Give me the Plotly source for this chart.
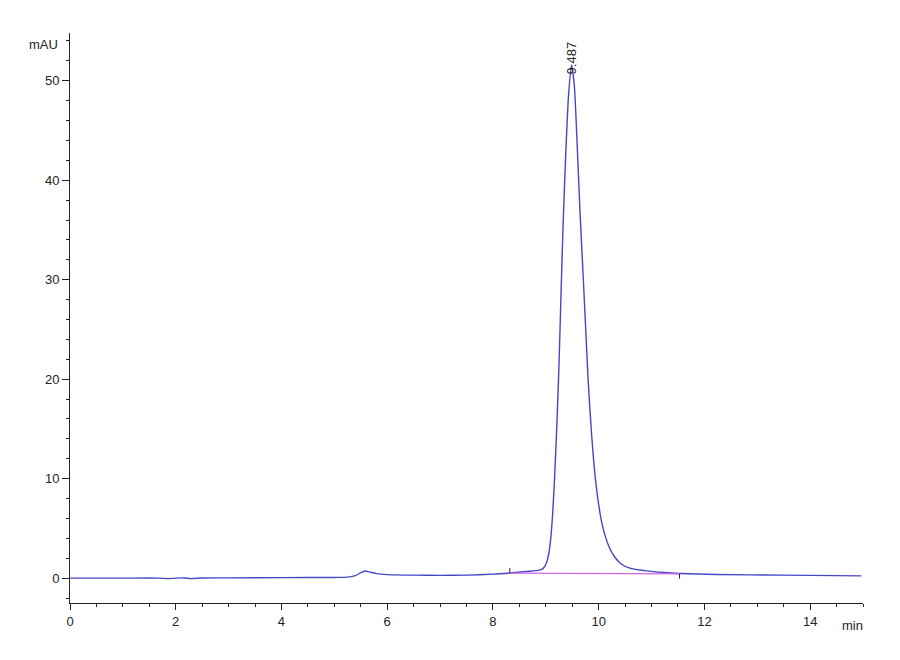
import plotly.graph_objects as go

# chromatogram trace (min, mAU)
time_min = [0.0, 1.0, 1.7, 1.85, 2.0, 2.15, 2.3, 2.5, 3.0, 4.0, 5.0, 5.25, 5.4, 5.5,
            5.58, 5.68, 5.8, 6.0, 6.5, 7.0, 7.5, 8.0, 8.32, 8.63, 8.88, 8.95, 9.01,
            9.05, 9.09, 9.13, 9.17, 9.21, 9.25, 9.29, 9.33, 9.38, 9.43, 9.487,
            9.54, 9.59, 9.65, 9.71, 9.76, 9.8, 9.86, 9.94, 10.05, 10.12, 10.2,
            10.3, 10.42, 10.59, 10.9, 11.22, 11.53, 12.22, 13.48, 14.97]
signal_mau = [0.0, 0.0, 0.0, -0.05, 0.0, 0.02, -0.05, 0.02, 0.03, 0.05, 0.07, 0.1, 0.25, 0.55,
              0.72, 0.6, 0.45, 0.35, 0.3, 0.28, 0.3, 0.4, 0.52, 0.67, 0.8, 0.98, 1.5,
              2.3, 3.8, 6.5, 10.5, 15.5, 21.5, 29.0, 36.0, 43.0, 48.5, 51.6,
              49.5, 44.0, 36.5, 30.0, 24.5, 20.0, 14.9, 9.9, 5.8, 4.3, 3.1,
              2.15, 1.45, 1.0, 0.73, 0.57, 0.47, 0.37, 0.3, 0.23]

# integration baseline and its start / end markers
baseline_t = [8.32, 11.53]
baseline_y = [0.5, 0.43]
start_mark_y = [0.5, 1.0]
end_mark_y = [0.43, -0.05]

peak_rt = 9.487
peak_label = "9.487"

font = "Liberation Sans Narrow, Arial Narrow, Liberation Sans, Arial, sans-serif"

fig = go.Figure()
fig.add_trace(go.Scatter(x=time_min, y=signal_mau, mode="lines",
                         line=dict(color="#4646c8", width=1.4, shape="spline", smoothing=0.6),
                         hoverinfo="skip"))
fig.add_trace(go.Scatter(x=baseline_t, y=baseline_y, mode="lines",
                         line=dict(color="#d264e6", width=1.4), hoverinfo="skip"))
fig.add_trace(go.Scatter(x=[baseline_t[0]] * 2, y=start_mark_y, mode="lines",
                         line=dict(color="#222222", width=1), hoverinfo="skip"))
fig.add_trace(go.Scatter(x=[baseline_t[1]] * 2, y=end_mark_y, mode="lines",
                         line=dict(color="#222222", width=1), hoverinfo="skip"))

fig.add_annotation(x=peak_rt, y=52.3, text=peak_label, textangle=-90, showarrow=False,
                   font=dict(family=font, size=13, color="#222222"))
fig.add_annotation(xref="paper", yref="paper", x=-0.013, y=0.979, text="mAU",
                   xanchor="right", yanchor="middle", showarrow=False,
                   font=dict(family=font, size=13, color="#222222"))
fig.add_annotation(x=14.8, yref="paper", y=-0.039, text="min", xanchor="center",
                   yanchor="middle", showarrow=False,
                   font=dict(family=font, size=13, color="#222222"))

fig.update_xaxes(range=[0, 15], tick0=0, dtick=2, tickvals=[0, 2, 4, 6, 8, 10, 12, 14],
                 ticks="outside", ticklen=6, tickcolor="#222222", showline=True,
                 linecolor="#222222", linewidth=1, showgrid=False, zeroline=False,
                 minor=dict(dtick=0.5, tick0=0, ticks="outside", ticklen=3,
                            tickcolor="#222222", showgrid=False),
                 tickfont=dict(family=font, size=13, color="#222222"))
fig.update_yaxes(range=[-2.5, 54.8], tick0=0, dtick=10, tickvals=[0, 10, 20, 30, 40, 50],
                 ticks="outside", ticklen=7, tickcolor="#222222", showline=True,
                 linecolor="#222222", linewidth=1, showgrid=False, zeroline=False,
                 minor=dict(dtick=2, tick0=0, ticks="outside", ticklen=3,
                            tickcolor="#222222", showgrid=False),
                 tickfont=dict(family=font, size=13, color="#222222"))

# page body adds ~8px, so margins are shifted to keep the plot area in place
fig.update_layout(width=900, height=660, showlegend=False,
                  plot_bgcolor="white", paper_bgcolor="white",
                  margin=dict(l=62, r=45, t=25, b=65))

fig.write_html("out.html")
